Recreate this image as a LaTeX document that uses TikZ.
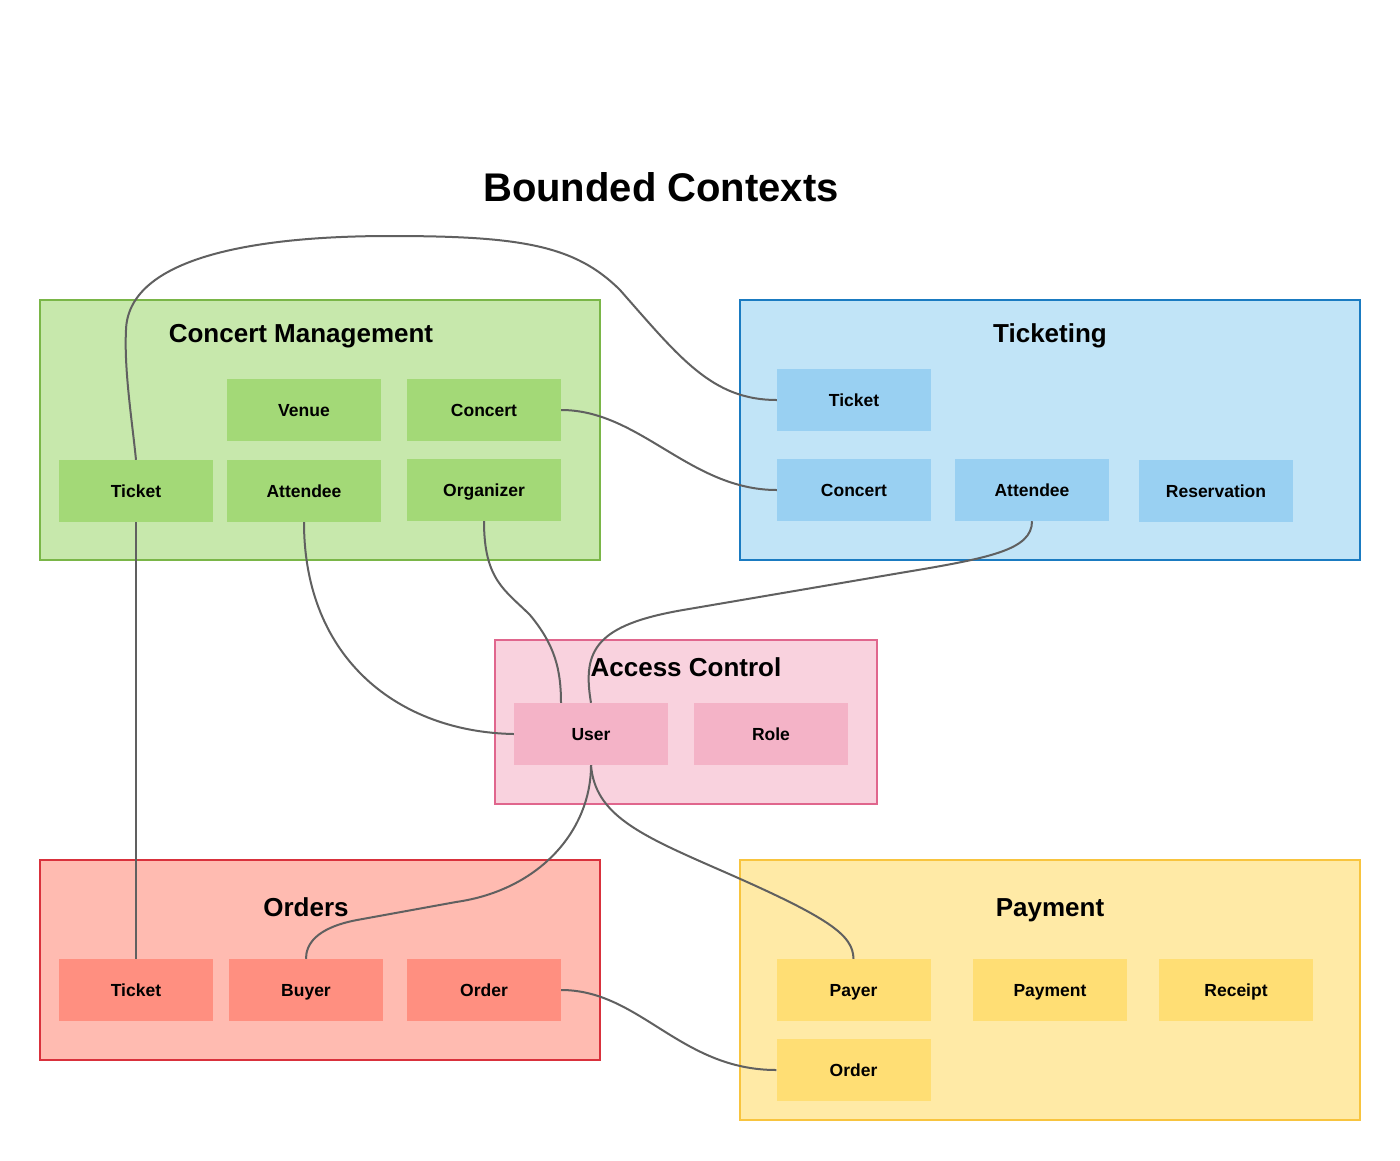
\documentclass[tikz,border=0pt]{standalone}
\usepackage{fontspec}
\setmainfont{Liberation Sans}
\definecolor{gFill}{HTML}{C7E8AC}
\definecolor{gLine}{HTML}{7AB648}
\definecolor{gBox}{HTML}{A3D977}
\definecolor{bFill}{HTML}{C1E4F7}
\definecolor{bLine}{HTML}{1A7BC1}
\definecolor{bBox}{HTML}{99D0F2}
\definecolor{pFill}{HTML}{F9D2DE}
\definecolor{pLine}{HTML}{E0668D}
\definecolor{pBox}{HTML}{F4B3C7}
\definecolor{rFill}{HTML}{FFBBB1}
\definecolor{rLine}{HTML}{D9313C}
\definecolor{rBox}{HTML}{FF8F80}
\definecolor{yFill}{HTML}{FFEAA6}
\definecolor{yLine}{HTML}{F8C43E}
\definecolor{yBox}{HTML}{FFDE74}
\definecolor{linkCol}{HTML}{606060}
\begin{document}
\begin{tikzpicture}[x=1pt,y=-1pt,
  ctx/.style={rectangle, line width=2pt, inner sep=0pt},
  ctxtitle/.style={font=\bfseries\fontsize{26}{30}\selectfont, inner sep=0pt,
    text height=18.6pt, text depth=0pt},
  ent/.style={rectangle, inner sep=0pt, minimum width=154pt, minimum height=62pt,
    font=\bfseries\fontsize{17.5}{20}\selectfont, text height=12.5pt, text depth=0pt},
  link/.style={draw=linkCol, line width=2pt}]
\useasboundingbox (0,0) rectangle (1400,1160);
\fill[white] (0,0) rectangle (1400,1160);

\node[font=\bfseries\fontsize{40}{46}\selectfont, inner sep=0pt, text height=28.6pt, text depth=0pt] (title) at (661,187) {Bounded Contexts};

% containers
\node[ctx, draw=gLine, fill=gFill, minimum width=560pt, minimum height=260pt] (cm) at (320,430) {};
\node[ctx, draw=bLine, fill=bFill, minimum width=620pt, minimum height=260pt] (tk) at (1050,430) {};
\node[ctx, draw=pLine, fill=pFill, minimum width=382pt, minimum height=164pt] (ac) at (686,722) {};
\node[ctx, draw=rLine, fill=rFill, minimum width=560pt, minimum height=200pt] (od) at (320,960) {};
\node[ctx, draw=yLine, fill=yFill, minimum width=620pt, minimum height=260pt] (py) at (1050,990) {};

\node[ctxtitle] (cmT) at (301,333) {Concert Management};
\node[ctxtitle] (tkT) at (1050,333) {Ticketing};
\node[ctxtitle] (acT) at (686,667) {Access Control};
\node[ctxtitle] (odT) at (306,907) {Orders};
\node[ctxtitle] (pyT) at (1050,907) {Payment};

% Concert Management entities
\node[ent, fill=gBox] (cmVenue) at (304,410) {Venue};
\node[ent, fill=gBox] (cmConcert) at (484,410) {Concert};
\node[ent, fill=gBox] (cmTicket) at (136,491) {Ticket};
\node[ent, fill=gBox] (cmAttendee) at (304,491) {Attendee};
\node[ent, fill=gBox] (cmOrganizer) at (484,490) {Organizer};

% Ticketing entities
\node[ent, fill=bBox] (tkTicket) at (854,400) {Ticket};
\node[ent, fill=bBox] (tkConcert) at (854,490) {Concert};
\node[ent, fill=bBox] (tkAttendee) at (1032,490) {Attendee};
\node[ent, fill=bBox] (tkReservation) at (1216,491) {Reservation};

% Access Control entities
\node[ent, fill=pBox] (acUser) at (591,734) {User};
\node[ent, fill=pBox] (acRole) at (771,734) {Role};

% Orders entities
\node[ent, fill=rBox] (odTicket) at (136,990) {Ticket};
\node[ent, fill=rBox] (odBuyer) at (306,990) {Buyer};
\node[ent, fill=rBox] (odOrder) at (484,990) {Order};

% Payment entities
\node[ent, fill=yBox] (pyPayer) at (853.5,990) {Payer};
\node[ent, fill=yBox] (pyPayment) at (1050,990) {Payment};
\node[ent, fill=yBox] (pyReceipt) at (1236,990) {Receipt};
\node[ent, fill=yBox] (pyOrder) at (853.5,1070) {Order};

% connectors
\draw[link] (cmTicket.north) .. controls (132,420) and (124,370) .. (126,330)
  .. controls (128,262) and (240,236) .. (390,236)
  .. controls (520,236) and (575,245) .. (620,290)
  .. controls (680,358) and (712,400) .. (tkTicket.west);
\draw[link] (cmConcert.east) .. controls (640,410) and (690,490) .. (tkConcert.west);
\draw[link] (tkAttendee.south) .. controls (1032,550) and (990,558) .. (900,573)
  -- (683,610) .. controls (596,625) and (582,650) .. (acUser.north);
\draw[link] (cmOrganizer.south) .. controls (484,580) and (505,590) .. (530,615)
  .. controls (555,645) and (561,670) .. ([xshift=-30pt]acUser.north);
\draw[link] (cmAttendee.south) .. controls (304,660) and (400,732) .. (acUser.west);
\draw[link] (cmTicket.south) -- (odTicket.north);
\draw[link] (acUser.south) .. controls (591,830) and (540,890) .. (456,902)
  -- (357,920) .. controls (315,928) and (306,945) .. (odBuyer.north);
\draw[link] (acUser.south) .. controls (595,815) and (640,835) .. (720,870)
  .. controls (830,918) and (853,935) .. (pyPayer.north);
\draw[link] (odOrder.east) .. controls (640,990) and (680,1070) .. (pyOrder.west);
\end{tikzpicture}
\end{document}
